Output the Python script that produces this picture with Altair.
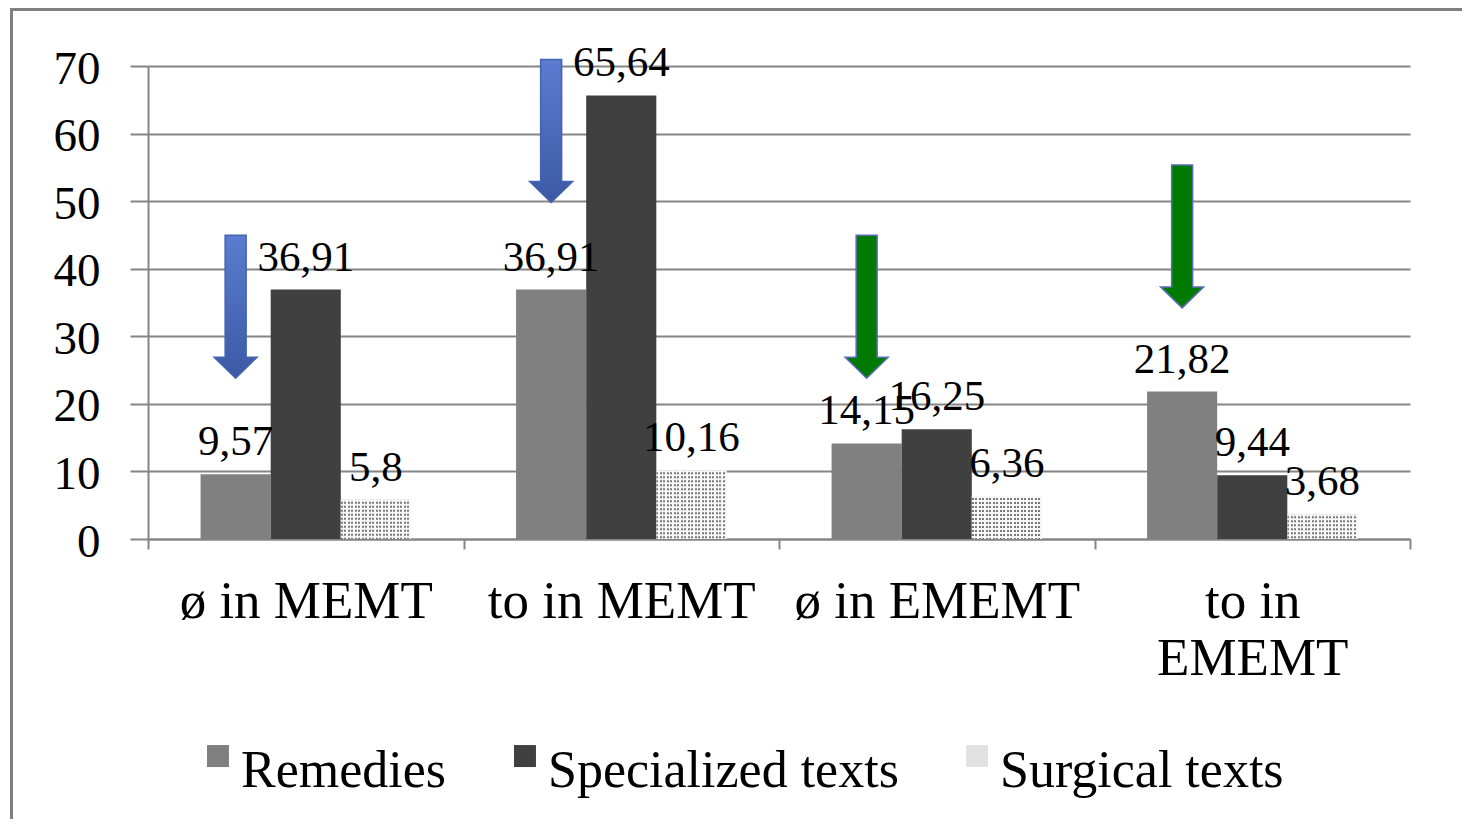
import altair as alt
import pandas as pd

# ---------------- data ----------------
categories = ["ø in MEMT", "to in MEMT", "ø in EMEMT", "to in EMEMT"]
series = ["Remedies", "Specialized texts", "Surgical texts"]
remedies = [9.57, 36.91, 14.15, 21.82]
specialized = [36.91, 65.64, 16.25, 9.44]
surgical = [5.8, 10.16, 6.36, 3.68]
arrow_tips = [23.8, 49.8, 23.8, 34.2]
arrow_kinds = ["blue", "blue", "green", "green"]
y_ticks = [0, 10, 20, 30, 40, 50, 60, 70]

rows = []
for i, c in enumerate(categories):
    for s, vals in zip(series, [remedies, specialized, surgical]):
        rows.append({"cat": c, "series": s, "value": vals[i]})
df = pd.DataFrame(rows)

arrows = pd.DataFrame({
    "cat": categories,
    "series": ["Remedies"] * len(categories),
    "tip": arrow_tips,
    "kind": arrow_kinds,
})

FONT = "Liberation Serif"
GRID = "#858585"
W, H = 1262, 473

# ---------------- shared encodings ----------------
x_enc = alt.X(
    "cat:N",
    sort=categories,
    scale=alt.Scale(domain=categories, paddingInner=0, paddingOuter=0),
    axis=alt.Axis(
        title=None,
        labelAngle=0,
        labelFont=FONT,
        labelFontSize=53,
        labelColor="black",
        labelPadding=26,
        labelLineHeight=57,
        labelLimit=0,
        labelOverlap=False,
        labelExpr="datum.value == 'to in EMEMT' ? ['to in', 'EMEMT'] : datum.value",
        tickBand="extent",
        tickSize=10,
        tickColor=GRID,
        tickWidth=2,
        domainColor=GRID,
        domainWidth=2,
    ),
)
xo_enc = alt.XOffset(
    "series:N",
    sort=series,
    scale=alt.Scale(domain=series, paddingInner=0, paddingOuter=0.75),
)
y_scale = alt.Scale(domain=[0, 70], nice=False)
y_enc = alt.Y(
    "value:Q",
    scale=y_scale,
    axis=alt.Axis(
        title=None,
        values=y_ticks,
        labelFont=FONT,
        labelFontSize=47,
        labelColor="black",
        labelPadding=30,
        labelOffset=3,
        tickSize=18,
        tickColor=GRID,
        tickWidth=2,
        domainColor=GRID,
        domainWidth=2,
        grid=True,
        gridColor=GRID,
        gridWidth=2,
    ),
)

# ---------------- frame ----------------
frame = alt.Chart(pd.DataFrame({"a": [0]})).mark_rect(
    fillOpacity=0, stroke="#808080", strokeWidth=3
).encode(
    x=alt.value(-136.5), x2=alt.value(W + 120),
    y=alt.value(-56.5), y2=alt.value(H + 400),
)

# legend square, lifted above the label's middle as in the reference
LEGEND_SQUARE = "M-0.73,-2.36H1.27V-0.36H-0.73Z"

# ---------------- bars ----------------
bars = alt.Chart(df).mark_bar().encode(
    x=x_enc,
    xOffset=xo_enc,
    y=y_enc,
    color=alt.Color(
        "series:N",
        sort=series,
        scale=alt.Scale(domain=series, range=["#808080", "#404040", "#e2e2e2"]),
        legend=alt.Legend(
            title=None,
            orient="none",
            legendX=41,
            legendY=679,
            direction="horizontal",
            columns=3,
            symbolType=LEGEND_SQUARE,
            symbolSize=484,
            symbolStrokeWidth=0,
            labelFont=FONT,
            labelFontSize=52,
            labelColor="black",
            labelOffset=0,
            labelLimit=0,
            columnPadding=49,
            padding=0,
        ),
    ),
)

# dotted pattern for surgical texts: vertical stripes + white dashed overlay
stops = []
n = 20
for i in range(n):
    stops += [
        alt.GradientStop(color="#7a7a7a", offset=i / n),
        alt.GradientStop(color="#7a7a7a", offset=(i + 0.5) / n),
        alt.GradientStop(color="#f7f7f7", offset=(i + 0.5) / n),
        alt.GradientStop(color="#f7f7f7", offset=(i + 1) / n),
    ]
stripe = alt.LinearGradient(gradient="linear", stops=stops, x1=0, x2=1, y1=0, y2=0)

surg = alt.Chart(df).transform_filter(alt.datum.series == "Surgical texts")
pat1 = surg.mark_bar(fill=stripe).encode(x=x_enc, xOffset=xo_enc, y=y_enc)
pat2 = surg.mark_rule(stroke="#f7f7f7", strokeWidth=70, strokeDash=[2, 2]).encode(
    x=x_enc, xOffset=xo_enc, y=y_enc, y2=alt.datum(0)
)

# ---------------- value labels ----------------
labels = alt.Chart(df).transform_calculate(
    label="replace(format(datum.value, '.2~f'), '.', ',')"
).mark_text(font=FONT, fontSize=43, dy=-19, baseline="alphabetic", color="black").encode(
    x=x_enc, xOffset=xo_enc, y=y_enc, text="label:N"
)

# ---------------- arrows ----------------
ARROW = ("M-0.488,-6.65L0.488,-6.65L0.488,-0.977L1,-0.977L0,0"
         "L-1,-0.977L-0.488,-0.977Z")
blue_grad = alt.LinearGradient(
    gradient="linear",
    stops=[alt.GradientStop(color="#5b7cd0", offset=0),
           alt.GradientStop(color="#3b59a4", offset=1)],
    x1=0, x2=0, y1=0, y2=1,
)
tip_y = alt.Y("tip:Q", scale=y_scale)

arrow_blue = alt.Chart(arrows).transform_filter(alt.datum.kind == "blue").mark_point(
    shape=ARROW, size=1849, filled=True, fill=blue_grad, stroke="#4463b0",
    strokeWidth=1.5, opacity=1,
).encode(x=x_enc, xOffset=xo_enc, y=tip_y)

arrow_green = alt.Chart(arrows).transform_filter(alt.datum.kind == "green").mark_point(
    shape=ARROW, size=1849, filled=True, fill="#007a00", stroke="#5a6cb4",
    strokeWidth=1.5, opacity=1,
).encode(x=x_enc, xOffset=xo_enc, y=tip_y)

chart = alt.layer(
    frame, bars, pat1, pat2, labels, arrow_blue, arrow_green
).properties(
    width=W,
    height=H,
    autosize=alt.AutoSizeParams(type="none"),
    padding={"left": 140, "top": 58, "right": 52, "bottom": 280},
    background="white",
).configure_view(stroke=None)

chart.save("out.html", embed_options={"renderer": "svg", "actions": False})
